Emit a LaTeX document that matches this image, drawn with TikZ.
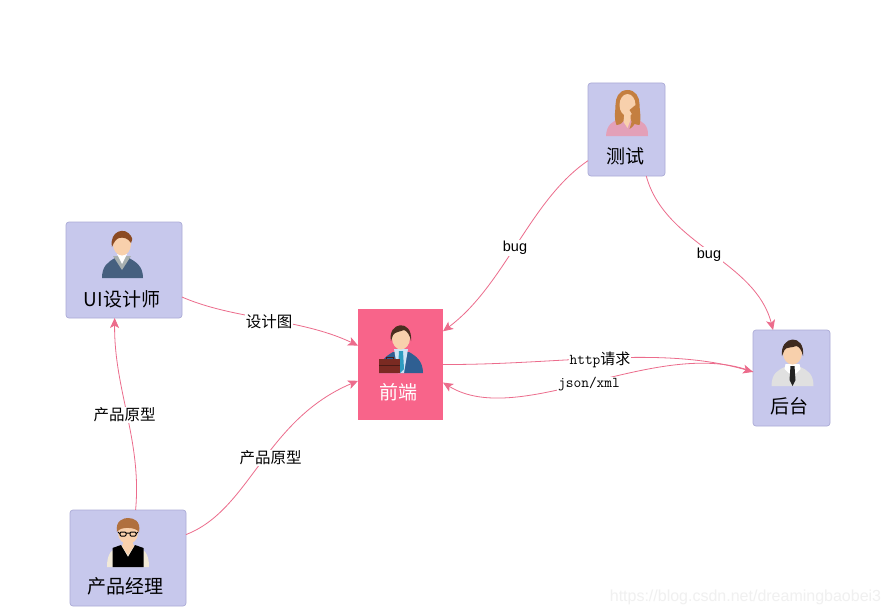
\documentclass[tikz,border=0pt]{standalone}
\usepackage{fontspec}
\setmainfont{Noto Sans CJK SC}
\newfontfamily\latinsans{Liberation Sans}
\setmonofont{Latin Modern Mono}
\usetikzlibrary{arrows.meta}
\definecolor{boxfill}{HTML}{C7C8EC}
\definecolor{boxline}{HTML}{ABABD6}
\definecolor{frontfill}{HTML}{F8648A}
\definecolor{linkcol}{HTML}{EC6C8C}
\definecolor{skin}{HTML}{F8D0AC}
\definecolor{hairA}{HTML}{C47F40}
\definecolor{topA}{HTML}{E3A0B8}
\definecolor{hairB}{HTML}{8B4A22}
\definecolor{topB}{HTML}{46607F}
\definecolor{collarB}{HTML}{A8B0B0}
\definecolor{hairC}{HTML}{B0703E}
\definecolor{sleeveC}{HTML}{F1E9D8}
\definecolor{hairD}{HTML}{3E2A1F}
\definecolor{topD}{HTML}{E0E0E0}
\definecolor{tieD}{HTML}{222222}
\definecolor{hairE}{HTML}{4A2F20}
\definecolor{topE}{HTML}{2F5F92}
\definecolor{shirtE}{HTML}{CFE3F5}
\definecolor{tieE}{HTML}{2E9CC0}
\definecolor{caseE}{HTML}{7A2A22}
\definecolor{caseEdge}{HTML}{4A1A16}
\tikzset{
  card/.style={draw=boxline,fill=boxfill,rounded corners=3pt,line width=.7pt,inner sep=0pt,outer sep=0pt},
  frontcard/.style={fill=frontfill,inner sep=0pt,outer sep=0pt,minimum width=85pt,minimum height=111pt},
  title/.style={inner sep=0pt,text=black,font=\fontsize{19}{19}\selectfont},
  link/.style={draw=linkcol,line width=.8pt,-{Stealth[length=10pt,width=9pt,inset=2.5pt]}},
  tag/.style={fill=white,inner sep=1pt,text=black,font=\fontsize{15.5}{15.5}\selectfont},
  monotag/.style={fill=white,inner sep=1pt,text=black,font=\ttfamily\fontsize{15}{15}\selectfont},
  sanstag/.style={fill=white,inner sep=1.5pt,text=black,font=\latinsans\fontsize{14.5}{14.5}\selectfont},
}
\begin{document}
\begin{tikzpicture}[x=1pt,y=-1pt]
\useasboundingbox (0,0) rectangle (890,615);
\fill[white] (0,0) rectangle (890,615);

% boxes
\node[card,minimum width=77pt,minimum height=93pt] (test) at (626.5,129.5) {};
\node[card,minimum width=116pt,minimum height=96pt] (ui) at (124,270) {};
\node[card,minimum width=116pt,minimum height=96pt] (pm) at (128,558) {};
\node[card,minimum width=77pt,minimum height=96pt] (back) at (791.5,378) {};
\node[frontcard] (front) at (400.5,364.5) {};

% connectors
\draw[link] (ui.-25) .. controls (235,320) and (300,318) .. (front.156.5);
\draw[link] (pm.81.5) .. controls (142,440) and (114,390) .. (ui.259.4);
\draw[link] (pm.22.5) .. controls (250,510) and (265,420) .. (front.201);
\draw[link] (test.219) .. controls (530,200) and (505,285) .. (front.38.2);
\draw[link] (test.-67) .. controls (665,245) and (755,260) .. (back.111);
\draw[link] (front.0) .. controls (560,365) and (660,345) .. (back.171);
\draw[link] (back.171) .. controls (660,335) and (520,430) .. (front.-23.5);

% connector labels
\node[tag] (l1) at (269,322) {设计图};
\node[tag] (l2) at (124.5,415) {产品原型};
\node[tag] (l3) at (270.5,458) {产品原型};
\node[sanstag] (l4) at (515,248) {bug};
\node[sanstag] (l5) at (709,255) {bug};
\node[inner sep=1pt,fill=white,text=black] (l6) at (600,360) {{\ttfamily\fontsize{15}{15}\selectfont http}{\fontsize{15}{15}\selectfont 请求}};
\node[monotag] (l7) at (589,384.5) {json/xml};

% titles
\node[title] (t1) at (625,156) {测试};
\node[title] (t2) at (122,299) {UI设计师};
\node[title] (t3) at (125.5,586) {产品经理};
\node[title] (t4) at (789,406) {后台};
\node[title,text=white] (t5) at (398,392) {前端};

% icon: tester
\begin{scope}[shift={(627.5,105)}]
  \fill[topA] (-21.5,31) .. controls (-21,20) and (-15,16) .. (-8,14) -- (8,14) .. controls (15,16) and (21,20) .. (20.5,31) -- cycle;
  \fill[hairA] (0,-15) .. controls (-9,-15) and (-12,-7) .. (-12,0) .. controls (-12,7) and (-14,12) .. (-11,20) .. controls (-7,20) and (-4,17) .. (-3,14) -- (3,14) .. controls (4,18) and (8,20) .. (12,20) .. controls (14,12) and (12,6) .. (12,-1) .. controls (12,-8) and (8,-15) .. (0,-15) -- cycle;
  \fill[skin] (0,0) ellipse (8pt and 11pt);
  \fill[skin] (-3,6) -- (3,6) -- (3,15) -- (0,23) -- (-4,17) -- cycle;
  \fill[hairA] (2,5) .. controls (6,9) and (5,15) .. (2,24) .. controls (9,20) and (12,10) .. (8,0) -- cycle;
\end{scope}

% icon: designer
\begin{scope}[shift={(122,244)}]
  \fill[topB] (-20,34) .. controls (-20,22) and (-14,18) .. (-7,14) -- (7,14) .. controls (14,18) and (21,22) .. (21,34) -- cycle;
  \fill[collarB] (-9,12) -- (9,12) -- (0,26) -- cycle;
  \fill[white] (-5,10) -- (5,10) -- (0,20) -- cycle;
  \fill[skin] (0,0) ellipse (9pt and 11.5pt);
  \fill[hairB] (-10,3) .. controls (-13,-13) and (3,-18) .. (9,-8) .. controls (11,-5) and (10,-3) .. (9,-1) .. controls (6,-6) and (1,-7) .. (-3,-6) .. controls (-6,-5) and (-8,-2) .. (-10,3) -- cycle;
\end{scope}

% icon: product manager
\begin{scope}[shift={(128,533)}]
  \fill[sleeveC] (-21,34) .. controls (-21,20) and (-16,16) .. (-8,13) -- (8,13) .. controls (16,16) and (21,20) .. (21,34) -- cycle;
  \fill[black] (-15.5,34) -- (-15.5,15) -- (-7,12) -- (0,24) -- (7,12) -- (15.5,15) -- (15.5,34) -- cycle;
  \fill[skin] (-4,8) -- (4,8) -- (6,13) -- (0,22) -- (-6,13) -- cycle;
  \fill[skin] (0,0) ellipse (10pt and 11pt);
  \fill[hairC] (-11,-1) .. controls (-13,-13) and (-4,-15) .. (0,-15) .. controls (6,-15) and (13,-12) .. (11,-1) .. controls (8,-6) and (-8,-7) .. (-11,-1) -- cycle;
  \draw[black,line width=1pt] (-10,-1) -- (-8,1) (-2,0) -- (2,0) (10,-1) -- (8,1);
  \draw[black,line width=1pt,rounded corners=1pt] (-8,-1) rectangle (-2,3) (2,-1) rectangle (8,3);
\end{scope}

% icon: backend
\begin{scope}[shift={(792.5,353)}]
  \fill[topD] (-21,33) .. controls (-21,20) and (-14,17) .. (-8,14) -- (8,14) .. controls (14,17) and (21,20) .. (21,33) -- cycle;
  \fill[white] (-7,11) -- (7,11) -- (8,16) -- (3,21) -- (-3,21) -- (-8,16) -- cycle;
  \fill[skin] (0,0) ellipse (9.5pt and 11.5pt);
  \fill[hairD] (-10.5,3) .. controls (-13,-18) and (13,-20) .. (10.5,3) .. controls (9,-3) and (7,-6) .. (4,-7) .. controls (-1,-5) and (-7,-6) .. (-8,-3) -- (-10.5,3) -- cycle;
  \fill[tieD] (-2,13) -- (2,13) -- (3,27) -- (0,33) -- (-3,27) -- cycle;
\end{scope}

% icon: frontend
\begin{scope}[shift={(401,338)}]
  \fill[topE] (-22,35) .. controls (-22,23) and (-15,18) .. (-8,14) -- (8,14) .. controls (15,18) and (22,23) .. (22,35) -- cycle;
  \fill[shirtE] (-7,11) -- (7,11) -- (3,35) -- (-3,35) -- cycle;
  \fill[tieE] (-2,13) -- (2,13) -- (3,31) -- (-1,35) -- (-3,31) -- cycle;
  \fill[skin] (0,0) ellipse (9pt and 11.5pt);
  \fill[hairE] (-10,3) .. controls (-14,-16) and (12,-20) .. (10,3) .. controls (9,-3) and (6,-7) .. (3,-8) .. controls (-2,-6) and (-6,-6) .. (-8,-3) -- (-10,3) -- cycle;
  \fill[caseE] (-22,21) rectangle (-1,35);
  \draw[caseEdge,line width=.8pt] (-22,27.5) -- (-1,27.5) (-15,21) -- (-15,19) -- (-8,19) -- (-8,21);
\end{scope}

% watermark
\node[inner sep=0pt,text=black!6,font=\latinsans\fontsize{16}{16}\selectfont] (mark) at (745.5,597) {https://blog.csdn.net/dreamingbaobei3};
\end{tikzpicture}
\end{document}
